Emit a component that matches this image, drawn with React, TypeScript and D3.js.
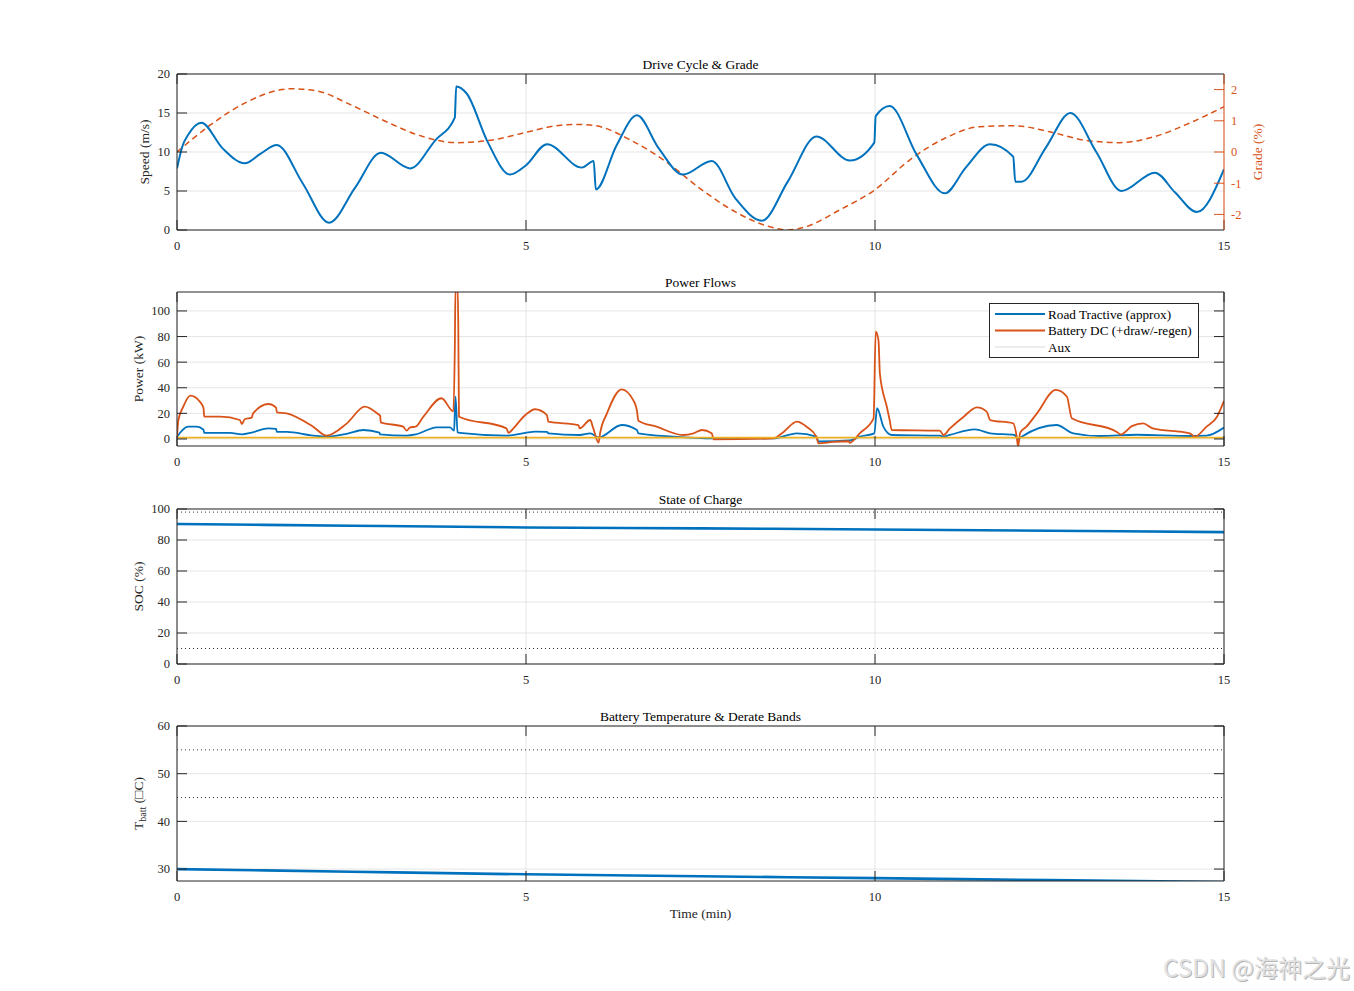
import * as d3 from 'd3'
import type { ReactNode } from 'react'

const W = 1354
const H = 991
const LEFT = 177
const RIGHT = 1224
const FONT = '"Liberation Serif", "Times New Roman", serif'
const BLUE = '#0072BD'
const ORANGE = '#D95319'
const YELLOW = '#EDB120'
const INK = '#262626'
const GRID = '#dedede'
const TICK_FS = 12.5
const LABEL_FS = 13.5

// time axis (minutes)
const timeTicks = [0, 5, 10, 15]

// drive cycle
const speedT = [0, 0.08, 0.16, 0.35, 0.65, 0.97, 1.2, 1.43, 1.8, 2.18, 2.55, 2.92, 3.34, 3.7, 3.98, 4.0, 4.15, 4.45, 4.77, 5.0, 5.3, 5.8, 5.97, 6.0, 6.3, 6.59, 6.9, 7.25, 7.66, 8.0, 8.38, 8.75, 9.16, 9.64, 9.99, 10.01, 10.21, 10.6, 11.0, 11.3, 11.65, 11.98, 12.01, 12.1, 12.45, 12.8, 13.17, 13.53, 14.01, 14.3, 14.61, 15]
const speedV = [7.9, 10.8, 12.2, 13.75, 10.5, 8.55, 9.8, 10.9, 6.0, 0.94, 5.4, 9.9, 7.9, 11.5, 14.4, 18.4, 17.5, 11.3, 7.1, 8.3, 11.0, 8.0, 8.85, 5.2, 10.9, 14.7, 10.5, 7.1, 8.85, 4.06, 1.2, 6.2, 12.0, 8.9, 11.2, 14.6, 15.9, 9.6, 4.7, 8.0, 11.0, 9.4, 6.2, 6.2, 10.6, 15.0, 10.0, 5.0, 7.35, 4.8, 2.3, 7.8]
const speedTicks = [0, 5, 10, 15, 20]

const gradeT = [0, 0.5, 1, 1.5, 1.62, 2, 2.5, 3, 3.5, 4, 4.5, 5, 5.5, 5.75, 6, 6.5, 7, 7.5, 8, 8.5, 8.75, 9, 9.5, 10, 10.5, 11, 11.5, 12, 12.5, 13, 13.5, 14, 14.5, 15]
const gradeV = [0, 0.9, 1.6, 2.0, 2.03, 1.96, 1.5, 0.97, 0.51, 0.3, 0.38, 0.63, 0.86, 0.88, 0.84, 0.38, -0.3, -1.18, -1.92, -2.4, -2.5, -2.4, -1.85, -1.21, -0.25, 0.44, 0.81, 0.84, 0.65, 0.38, 0.3, 0.49, 0.92, 1.45]
const gradeTicks = [-2, -1, 0, 1, 2]

// power flows (kW)
const roadT = [0, 0.16, 0.28, 0.38, 0.39, 0.76, 0.93, 1.07, 1.31, 1.42, 1.43, 1.57, 1.95, 2.14, 2.43, 2.67, 2.9, 2.91, 3.29, 3.42, 3.72, 3.91, 3.97, 3.98, 3.99, 4.02, 4.05, 4.72, 4.99, 5.13, 5.3, 5.32, 5.77, 5.92, 6.04, 6.37, 6.59, 6.61, 7.11, 7.69, 8.54, 8.88, 9.16, 9.19, 9.64, 9.78, 9.99, 10.03, 10.12, 10.24, 10.93, 10.98, 11.07, 11.43, 11.65, 12.0, 12.05, 12.1, 12.6, 12.84, 13.22, 13.75, 14.51, 14.75, 15]
const roadP = [1.8, 9.6, 9.6, 7.2, 4.7, 4.7, 3.6, 5, 8.3, 7.8, 5.5, 5.5, 2.6, 1.8, 4, 7.0, 5, 3.6, 2.6, 3.5, 9.1, 9.1, 6.5, 20, 33, 5.2, 4.7, 2.6, 4.8, 5.8, 5.5, 4.4, 3.1, 4.4, 1.2, 10.9, 7, 4.4, 1.8, 0.4, 0.4, 4.4, 1.8, -2.0, -1.2, 1.8, 4.4, 24, 9.6, 3.1, 2.6, 1.8, 3.1, 7.5, 4.4, 3.1, 0, 1.8, 10.9, 4.4, 2.3, 3.3, 2.3, 2.6, 8.9]

const battT = [0, 0.02, 0.09, 0.19, 0.33, 0.38, 0.39, 0.62, 0.9, 0.93, 0.97, 1.07, 1.09, 1.31, 1.42, 1.43, 1.57, 1.95, 2.14, 2.43, 2.69, 2.88, 2.91, 2.92, 3.24, 3.29, 3.34, 3.42, 3.53, 3.79, 3.96, 3.98, 3.99, 4.02, 4.03, 4.04, 4.72, 4.75, 4.82, 4.99, 5.13, 5.3, 5.32, 5.75, 5.77, 5.92, 5.96, 6.04, 6.06, 6.16, 6.37, 6.54, 6.59, 6.61, 6.87, 7.25, 7.4, 7.52, 7.66, 7.69, 8.54, 8.69, 8.88, 9.02, 9.16, 9.19, 9.4, 9.62, 9.64, 9.78, 9.98, 10.01, 10.05, 10.07, 10.17, 10.21, 10.24, 10.93, 10.98, 11.07, 11.27, 11.46, 11.6, 11.65, 11.98, 12.03, 12.05, 12.08, 12.17, 12.32, 12.59, 12.75, 12.82, 13.46, 13.52, 13.68, 13.84, 13.98, 14.51, 14.58, 14.75, 14.9, 15]
const battP = [1.8, 14.8, 25.2, 33.8, 29, 24, 17.4, 17.4, 14.8, 11.7, 15.4, 16.7, 20, 27.3, 24.5, 20.8, 20, 9.6, 2.6, 12, 25.2, 19.5, 18.2, 13, 9.6, 6.5, 9.1, 9.6, 17.4, 31.8, 21.5, 70, 118, 118, 89, 17.4, 8.3, 4.7, 8.3, 18.7, 23.2, 18.7, 13.5, 10.9, 8.3, 14.8, 9, -2.9, 4, 20, 38.8, 30, 22, 14.3, 9.6, 3.1, 4.4, 7, 4.5, -0.3, 0.4, 5.5, 13.5, 9.6, 1.8, -3.4, -2.3, -1.8, -3, 4.4, 16.1, 83.8, 77, 51, 25, 14.8, 7, 6.5, 3.1, 8, 17.4, 24.7, 21.4, 14.8, 12.2, 1.8, -6, 5, 9.6, 20, 38.3, 33, 16.1, 5.7, 3.5, 10, 12.2, 8.3, 4.4, 1.8, 9.6, 17.4, 29.7]

const auxT = [0, 15]
const auxP = [1.0, 1.0]
const powerTicks = [0, 20, 40, 60, 80, 100]

// state of charge
const socT = [0, 2.5, 5, 7.5, 10, 12.5, 15]
const socV = [90.3, 89.2, 88.1, 87.5, 86.8, 86.0, 85.1]
const socTicks = [0, 20, 40, 60, 80, 100]
const socBands = [98, 10]

// battery temperature
const tempT = [0, 2.5, 5, 7.5, 10, 12.5, 15]
const tempV = [30.0, 29.45, 28.9, 28.5, 28.1, 27.7, 27.3]
const tempTicks = [30, 40, 50, 60]
const tempBands = [55, 45]

const legendItems = [
  { label: 'Road Tractive (approx)', color: BLUE, width: 2 },
  { label: 'Battery DC (+draw/-regen)', color: ORANGE, width: 2 },
  { label: 'Aux', color: '#cfcfcf', width: 0.8 },
]

const x = d3.scaleLinear().domain([0, 15]).range([LEFT, RIGHT])

function pathOf(ts: number[], vs: number[], y: d3.ScaleLinear<number, number>, curve = d3.curveMonotoneX) {
  const pts = ts.map((t, i) => [t, vs[i]] as [number, number])
  return (
    d3
      .line<[number, number]>()
      .x((d) => x(d[0]))
      .y((d) => y(d[1]))
      .curve(curve)(pts) ?? ''
  )
}

interface PanelProps {
  id: string
  top: number
  bottom: number
  domain: [number, number]
  ticks: number[]
  title: string
  ylabel: ReactNode
  ylabelX: number
  showTicksRight?: boolean
  xlabel?: string
  children: (y: d3.ScaleLinear<number, number>) => ReactNode
  extra?: ReactNode
}

function Panel({ id, top, bottom, domain, ticks, title, ylabel, ylabelX, showTicksRight = true, xlabel, children, extra }: PanelProps) {
  const y = d3.scaleLinear().domain(domain).range([bottom, top])
  const mid = (top + bottom) / 2
  const cx = (LEFT + RIGHT) / 2
  return (
    <g>
      <defs>
        <clipPath id={id}>
          <rect x={LEFT} y={top} width={RIGHT - LEFT} height={bottom - top} />
        </clipPath>
      </defs>
      <rect x={LEFT} y={top} width={RIGHT - LEFT} height={bottom - top} fill="#fff" />
      {ticks.map((t) => (
        <line key={'gy' + t} x1={LEFT} x2={RIGHT} y1={y(t)} y2={y(t)} stroke={GRID} strokeWidth={0.8} />
      ))}
      {timeTicks.map((t) => (
        <line key={'gx' + t} x1={x(t)} x2={x(t)} y1={top} y2={bottom} stroke={GRID} strokeWidth={0.8} />
      ))}
      <g clipPath={`url(#${id})`}>{children(y)}</g>
      {/* frame and inward ticks */}
      <line x1={LEFT} x2={RIGHT} y1={top} y2={top} stroke={INK} strokeWidth={1} />
      <line x1={LEFT} x2={RIGHT} y1={bottom} y2={bottom} stroke={INK} strokeWidth={1} />
      <line x1={LEFT} x2={LEFT} y1={top} y2={bottom} stroke={INK} strokeWidth={1} />
      {showTicksRight && <line x1={RIGHT} x2={RIGHT} y1={top} y2={bottom} stroke={INK} strokeWidth={1} />}
      {timeTicks.map((t) => (
        <g key={'tx' + t}>
          <line x1={x(t)} x2={x(t)} y1={bottom} y2={bottom - 10} stroke={INK} strokeWidth={1} />
          <line x1={x(t)} x2={x(t)} y1={top} y2={top + 10} stroke={INK} strokeWidth={1} />
          <text x={x(t)} y={bottom + 20} textAnchor="middle" fontSize={TICK_FS} fill={INK} fontFamily={FONT}>
            {t}
          </text>
        </g>
      ))}
      {ticks.map((t) => (
        <g key={'ty' + t}>
          <line x1={LEFT} x2={LEFT + 10} y1={y(t)} y2={y(t)} stroke={INK} strokeWidth={1} />
          {showTicksRight && <line x1={RIGHT} x2={RIGHT - 10} y1={y(t)} y2={y(t)} stroke={INK} strokeWidth={1} />}
          <text x={LEFT - 7} y={y(t)} dy="0.35em" textAnchor="end" fontSize={TICK_FS} fill={INK} fontFamily={FONT}>
            {t}
          </text>
        </g>
      ))}
      <text x={cx} y={top - 5} textAnchor="middle" fontSize={LABEL_FS} fill="#000" fontFamily={FONT}>
        {title}
      </text>
      <text
        transform={`translate(${ylabelX},${mid}) rotate(-90)`}
        textAnchor="middle"
        dy="0.35em"
        fontSize={LABEL_FS}
        fill={INK}
        fontFamily={FONT}
      >
        {ylabel}
      </text>
      {xlabel && (
        <text x={cx} y={bottom + 37} textAnchor="middle" fontSize={LABEL_FS} fill={INK} fontFamily={FONT}>
          {xlabel}
        </text>
      )}
      {extra}
    </g>
  )
}

export default function App() {
  const gradeY = d3.scaleLinear().domain([-2.5, 2.5]).range([230, 74])
  return (
    <svg
      width={W}
      height={H}
      viewBox={`0 0 ${W} ${H}`}
      style={{ position: 'absolute', left: 0, top: 0, background: '#fff' }}
    >
      <rect width={W} height={H} fill="#fff" />

      <Panel
        id="c1"
        top={74}
        bottom={230}
        domain={[0, 20]}
        ticks={speedTicks}
        title="Drive Cycle & Grade"
        ylabel="Speed (m/s)"
        ylabelX={144}
        showTicksRight={false}
        extra={
          <g>
            <line x1={RIGHT} x2={RIGHT} y1={74} y2={230} stroke={ORANGE} strokeWidth={1} />
            {gradeTicks.map((t) => (
              <g key={'g' + t}>
                <line x1={RIGHT} x2={RIGHT - 10} y1={gradeY(t)} y2={gradeY(t)} stroke={ORANGE} strokeWidth={1} />
                <text x={RIGHT + 7} y={gradeY(t)} dy="0.35em" fontSize={TICK_FS} fill={ORANGE} fontFamily={FONT}>
                  {t}
                </text>
              </g>
            ))}
            <text
              transform={`translate(1257,152) rotate(-90)`}
              textAnchor="middle"
              dy="0.35em"
              fontSize={LABEL_FS}
              fill={ORANGE}
              fontFamily={FONT}
            >
              Grade (%)
            </text>
          </g>
        }
      >
        {(y) => (
          <g fill="none">
            <path d={pathOf(gradeT, gradeV, gradeY)} stroke={ORANGE} strokeWidth={1.5} strokeDasharray="6,4" />
            <path d={pathOf(speedT, speedV, y)} stroke={BLUE} strokeWidth={2} />
          </g>
        )}
      </Panel>

      <Panel
        id="c2"
        top={292}
        bottom={446}
        domain={[-5.5, 114.8]}
        ticks={powerTicks}
        title="Power Flows"
        ylabel="Power (kW)"
        ylabelX={138}
        extra={
          <g>
            <rect x={989.5} y={303.5} width={209} height={54} fill="#fff" stroke={INK} strokeWidth={1} />
            {legendItems.map((item, i) => {
              const ly = 314 + i * 16.5
              return (
                <g key={item.label}>
                  <line x1={995} x2={1045} y1={ly} y2={ly} stroke={item.color} strokeWidth={item.width} />
                  <text x={1048} y={ly} dy="0.35em" fontSize={13.2} fill="#000" fontFamily={FONT}>
                    {item.label}
                  </text>
                </g>
              )
            })}
          </g>
        }
      >
        {(y) => (
          <g fill="none">
            <path d={pathOf(roadT, roadP, y)} stroke={BLUE} strokeWidth={1.8} />
            <path d={pathOf(battT, battP, y)} stroke={ORANGE} strokeWidth={1.8} />
            <path d={pathOf(auxT, auxP, y, d3.curveLinear)} stroke={YELLOW} strokeWidth={1.8} />
          </g>
        )}
      </Panel>

      <Panel
        id="c3"
        top={509}
        bottom={664}
        domain={[0, 100]}
        ticks={socTicks}
        title="State of Charge"
        ylabel="SOC (%)"
        ylabelX={138}
      >
        {(y) => (
          <g fill="none">
            {socBands.map((b) => (
              <line key={b} x1={LEFT} x2={RIGHT} y1={y(b)} y2={y(b)} stroke="#333" strokeWidth={1} strokeDasharray="1,3" />
            ))}
            <path d={pathOf(socT, socV, y)} stroke={BLUE} strokeWidth={2.6} />
          </g>
        )}
      </Panel>

      <Panel
        id="c4"
        top={726}
        bottom={881}
        domain={[27.5, 60]}
        ticks={tempTicks}
        title="Battery Temperature & Derate Bands"
        ylabel={
          <>
            <tspan>T</tspan>
            <tspan fontSize={10} dy="3">batt</tspan>
            <tspan dy="-3">{'\u00A0(\u25A1C)'}</tspan>
          </>
        }
        ylabelX={138}
        xlabel="Time (min)"
      >
        {(y) => (
          <g fill="none">
            {tempBands.map((b) => (
              <line key={b} x1={LEFT} x2={RIGHT} y1={y(b)} y2={y(b)} stroke="#333" strokeWidth={1} strokeDasharray="1,3" />
            ))}
            <path d={pathOf(tempT, tempV, y)} stroke={BLUE} strokeWidth={2.6} />
          </g>
        )}
      </Panel>

      <text
        x={1351}
        y={978}
        textAnchor="end"
        fontSize={24}
        fontFamily='"Noto Sans CJK SC", "Noto Sans", sans-serif'
        fill="#b5b5b5"
      >
        CSDN @海神之光
      </text>
      <text
        x={1350}
        y={977}
        textAnchor="end"
        fontSize={24}
        fontFamily='"Noto Sans CJK SC", "Noto Sans", sans-serif'
        fill="#e2e2e2"
      >
        CSDN @海神之光
      </text>
    </svg>
  )
}
